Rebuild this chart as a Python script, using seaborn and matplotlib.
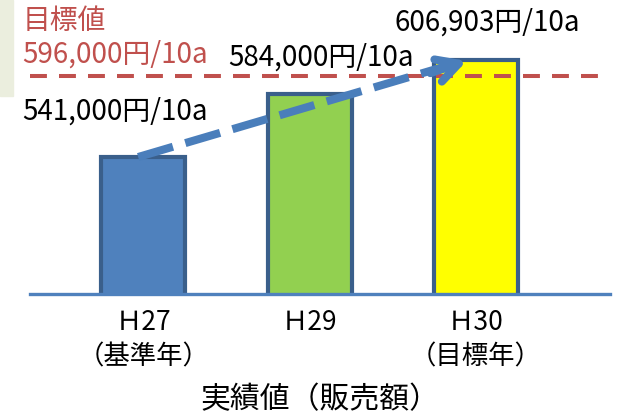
import matplotlib
matplotlib.use("Agg")
import matplotlib.pyplot as plt
from matplotlib.patches import Rectangle
import seaborn as sns
import pandas as pd

# data
years = ["Ｈ27\n（基準年）", "Ｈ29", "Ｈ30\n（目標年）"]
sales = [541000, 584000, 606903]
value_labels = ["541,000円/10a", "584,000円/10a", "606,903円/10a"]
target = 596000
target_title = "目標値"
target_label = "596,000円/10a"
xlabel = "実績値（販売額）"
bar_colors = ["#4F81BD", "#92D050", "#FFFF00"]

sns.set_theme(style="white")
plt.rcParams["font.family"] = ["Noto Sans CJK JP", "DejaVu Sans"]

fig = plt.figure(figsize=(6.22, 4.17), dpi=100)
ax = fig.add_axes([30 / 622, (417 - 294) / 417, 580 / 622, 294 / 417])

# small tinted panel at the top-left corner
fig.patches.append(Rectangle((0, 1 - 96 / 417), 13 / 622, 96 / 417,
                             transform=fig.transFigure, color="#EBEEDE",
                             zorder=0))

df = pd.DataFrame({"year": years, "sales": sales})
sns.barplot(data=df, x="year", y="sales", hue="year", palette=bar_colors,
            width=0.505, edgecolor="#3A5F8B", linewidth=3, legend=False,
            saturation=1, ax=ax, zorder=2)

ax.set_xlim(-0.68, 2.805)
ax.set_ylim(447900, 647700)

# target line
ax.axhline(target, color="#C0504D", lw=2.9, dashes=(4.2, 3.0), zorder=3)

# trend arrow from the base year to the target year
x0, y0 = 0, sales[0]
x1, y1 = 1.96, sales[2]
ax.plot([x0 - 0.03, x1 - 0.12], [y0, y1 - 3500], color="#4A7EBB", lw=5.8,
        dashes=(4.5, 1.6), solid_capstyle="butt", zorder=4)
ax.annotate("", xy=(x1, y1), xytext=(x1 - 0.25, y1 - 9500),
            arrowprops=dict(arrowstyle="->,head_length=1.3,head_width=0.7",
                            color="#4A7EBB", lw=5.8), zorder=4)

# value labels
fs = 20
ax.text(-0.727, sales[0] + 30600, value_labels[0], fontsize=fs,
        ha="left", va="center", color="black", clip_on=False)
ax.text(0.51, sales[1] + 24300, value_labels[1], fontsize=fs,
        ha="left", va="center", color="black", clip_on=False)
ax.text(1.513, sales[2] + 25200, value_labels[2], fontsize=fs,
        ha="left", va="center", color="black", clip_on=False)
ax.text(-0.727, target + 14300, target_label, fontsize=fs,
        ha="left", va="center", color="#C0504D", clip_on=False)
ax.text(-0.727, target + 37400, target_title, fontsize=fs,
        ha="left", va="center", color="#C0504D", clip_on=False)

# axes styling
for s in ["left", "right", "top"]:
    ax.spines[s].set_visible(False)
ax.spines["bottom"].set_color("#4F81BD")
ax.spines["bottom"].set_linewidth(2.4)
ax.spines["bottom"].set_zorder(5)
ax.set_yticks([])
ax.set_ylabel("")
ax.tick_params(axis="x", length=0, pad=10.5, labelsize=19, colors="black")
for lbl in ax.get_xticklabels():
    lbl.set_linespacing(1.38)
ax.set_xlabel(xlabel, fontsize=21.5, labelpad=10, color="black")

fig.savefig("out.png", dpi=100)
